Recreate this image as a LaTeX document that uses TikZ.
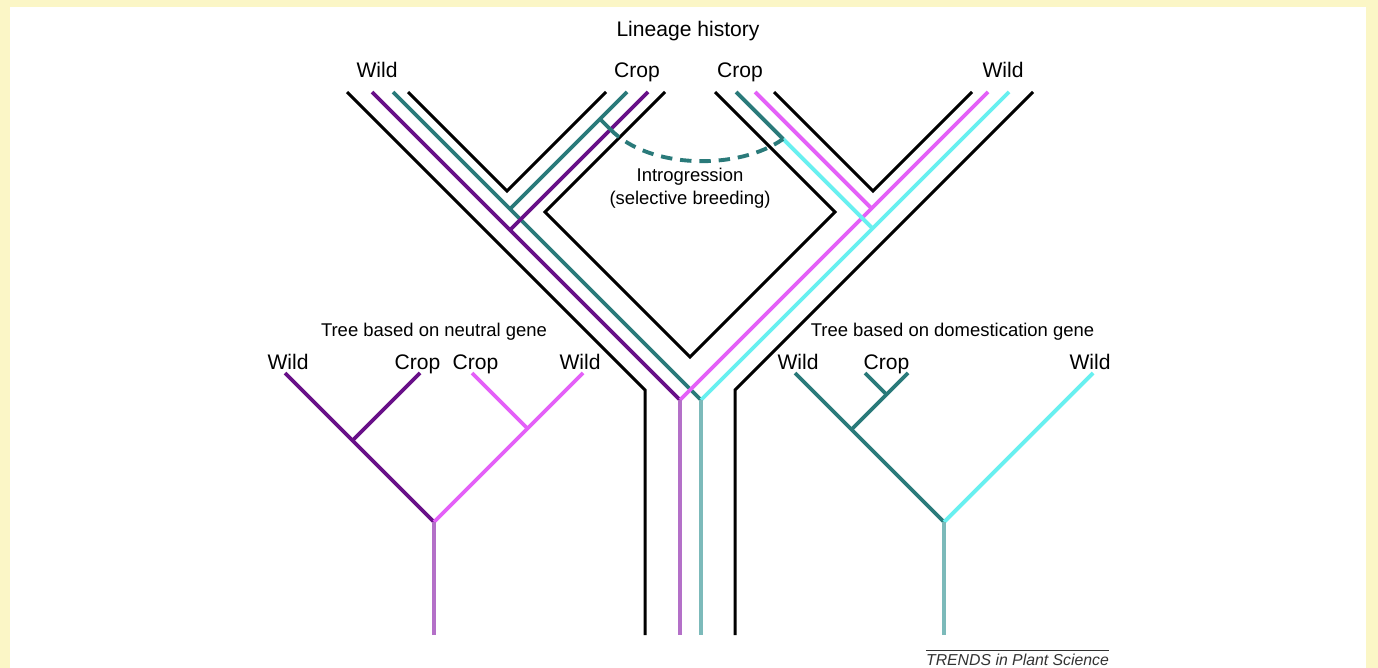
\documentclass[tikz,border=0pt]{standalone}
\usepackage{fontspec}
\setmainfont{Liberation Sans}
\usetikzlibrary{positioning}

\definecolor{wildpurple}{RGB}{104,16,136}
\definecolor{croppink}{RGB}{228,96,248}
\definecolor{domteal}{RGB}{42,122,122}
\definecolor{wildcyan}{RGB}{104,240,240}
\definecolor{rootlilac}{RGB}{180,112,200}
\definecolor{rootteal}{RGB}{124,186,186}
\definecolor{framecream}{RGB}{251,246,198}

\begin{document}
\begin{tikzpicture}[x=0.02cm, y=-0.02cm,
  tube/.style={draw=black, line width=1.7pt},
  gene/.style={line width=2.2pt},
  lbl/.style={font=\fontsize{12}{14}\selectfont, anchor=base, inner sep=0pt},
  smalltxt/.style={font=\fontsize{10.5}{12.5}\selectfont, anchor=base, inner sep=0pt}]
  % frame
  \fill[framecream] (0,0) rectangle (1378,668);
  \fill[white] (10,7) rectangle (1366,668);
  \useasboundingbox (0,0) rectangle (1378,668);

  % lineage history: outline of the tubes
  \coordinate (lwO) at (347,92);
  \coordinate (lwI) at (408,92);
  \coordinate (lV) at (507,191);
  \coordinate (lcI) at (606,92);
  \coordinate (lcO) at (665,92);
  \coordinate (dL) at (545,212);
  \coordinate (dB) at (690,357);
  \coordinate (dR) at (835,212);
  \coordinate (rcO) at (715,92);
  \coordinate (rcI) at (774,92);
  \coordinate (rV) at (873,191);
  \coordinate (rwI) at (972,92);
  \coordinate (rwO) at (1033,92);
  \coordinate (stemL) at (645,390);
  \coordinate (stemR) at (735,390);
  \coordinate (footL) at (645,635);
  \coordinate (footR) at (735,635);
  \draw[tube] (lwO) -- (stemL) -- (footL);
  \draw[tube] (rwO) -- (stemR) -- (footR);
  \draw[tube] (lwI) -- (lV) -- (lcI);
  \draw[tube] (rcI) -- (rV) -- (rwI);
  \draw[tube] (lcO) -- (dL) -- (dB) -- (dR) -- (rcO);

  % lineage history: gene copies
  \coordinate (pTop) at (372,92);
  \coordinate (tTop) at (393,92);
  \coordinate (mTop) at (988,92);
  \coordinate (cTop) at (1009,92);
  \coordinate (pMeet) at (680,400);
  \coordinate (tMeet) at (701,400);
  \coordinate (pEnd) at (680,635);
  \coordinate (tEnd) at (701,635);
  \coordinate (lcT) at (627,92);
  \coordinate (lcP) at (648,92);
  \coordinate (lcTj) at (510,209);
  \coordinate (lcPj) at (510,230);
  \coordinate (rcT) at (736,92);
  \coordinate (rcM) at (755,92);
  \coordinate (introR) at (783,139);
  \coordinate (rcCj) at (872.5,228.5);
  \coordinate (rcMj) at (871.5,208.5);
  \coordinate (introA) at (600,119);
  \coordinate (introB) at (610.5,129.5);

  \draw[gene, wildpurple] (pTop) -- (pMeet);
  \draw[gene, domteal] (tTop) -- (tMeet);
  \draw[gene, croppink] (mTop) -- (pMeet);
  \draw[gene, wildcyan] (cTop) -- (tMeet);
  \draw[gene, rootlilac] (pMeet) -- (pEnd);
  \draw[gene, rootteal] (tMeet) -- (tEnd);
  \draw[gene, domteal] (lcT) -- (lcTj);
  \draw[gene, wildpurple] (lcP) -- (lcPj);
  \draw[gene, croppink] (rcM) -- (rcMj);
  \draw[gene, wildcyan] (introR) -- (rcCj);
  \draw[gene, domteal] (rcT) -- (introR);
  \draw[gene, domteal] (introA) -- (introB);
  \draw[gene, domteal, dash pattern=on 6.5pt off 4.5pt]
    (introB) .. controls (650,170) and (740,170) .. (introR);

  \node[lbl] (title) at (688,37) {Lineage history};
  \node[lbl] (wildL) at (377,78) {Wild};
  \node[lbl] (cropL) at (637,78) {Crop};
  \node[lbl] (cropR) at (740,78) {Crop};
  \node[lbl] (wildR) at (1003,78) {Wild};
  \node[smalltxt] (intro) at (690,182) {Introgression};
  \node[smalltxt] (selb) at (690,205) {(selective breeding)};

  % tree based on neutral gene
  \coordinate (nW1) at (285,373);
  \coordinate (nC1) at (420,373);
  \coordinate (nJ1) at (352.5,440.5);
  \coordinate (nC2) at (472,373);
  \coordinate (nW2) at (583,373);
  \coordinate (nJ2) at (527.5,428.5);
  \coordinate (nRoot) at (434,522);
  \coordinate (nEnd) at (434,635);
  \draw[gene, wildpurple] (nW1) -- (nRoot);
  \draw[gene, wildpurple] (nC1) -- (nJ1);
  \draw[gene, croppink] (nW2) -- (nRoot);
  \draw[gene, croppink] (nC2) -- (nJ2);
  \draw[gene, rootlilac] (nRoot) -- (nEnd);
  \node[smalltxt] (ntitle) at (434,337) {Tree based on neutral gene};
  \node[lbl] (nWl1) at (288,370) {Wild};
  \node[lbl] (nCl1) at (417.5,370) {Crop};
  \node[lbl] (nCl2) at (475.5,370) {Crop};
  \node[lbl] (nWl2) at (580,370) {Wild};

  % tree based on domestication gene
  \coordinate (dW1) at (795,373);
  \coordinate (dC1) at (865,373);
  \coordinate (dC2) at (908,373);
  \coordinate (dCj) at (886.5,394.5);
  \coordinate (dJ) at (851.5,429.5);
  \coordinate (dW2) at (1093,373);
  \coordinate (dRoot) at (944,522);
  \coordinate (dEnd) at (944,635);
  \draw[gene, domteal] (dW1) -- (dRoot);
  \draw[gene, domteal] (dC1) -- (dCj);
  \draw[gene, domteal] (dC2) -- (dJ);
  \draw[gene, wildcyan] (dW2) -- (dRoot);
  \draw[gene, rootteal] (dRoot) -- (dEnd);
  \node[smalltxt] (dtitle) at (952.5,337) {Tree based on domestication gene};
  \node[lbl] (dWl1) at (798,370) {Wild};
  \node[lbl] (dCl) at (886.5,370) {Crop};
  \node[lbl] (dWl2) at (1090,370) {Wild};

  % source line
  \node[font=\fontsize{9}{11}\selectfont\itshape, text=black!80, anchor=base, inner sep=0pt]
    (credit) at (1017.5,665) {TRENDS in Plant Science};
  \draw[black!80, line width=0.5pt] ([yshift=1.5pt]credit.north west) -- ([yshift=1.5pt]credit.north east);
\end{tikzpicture}
\end{document}
